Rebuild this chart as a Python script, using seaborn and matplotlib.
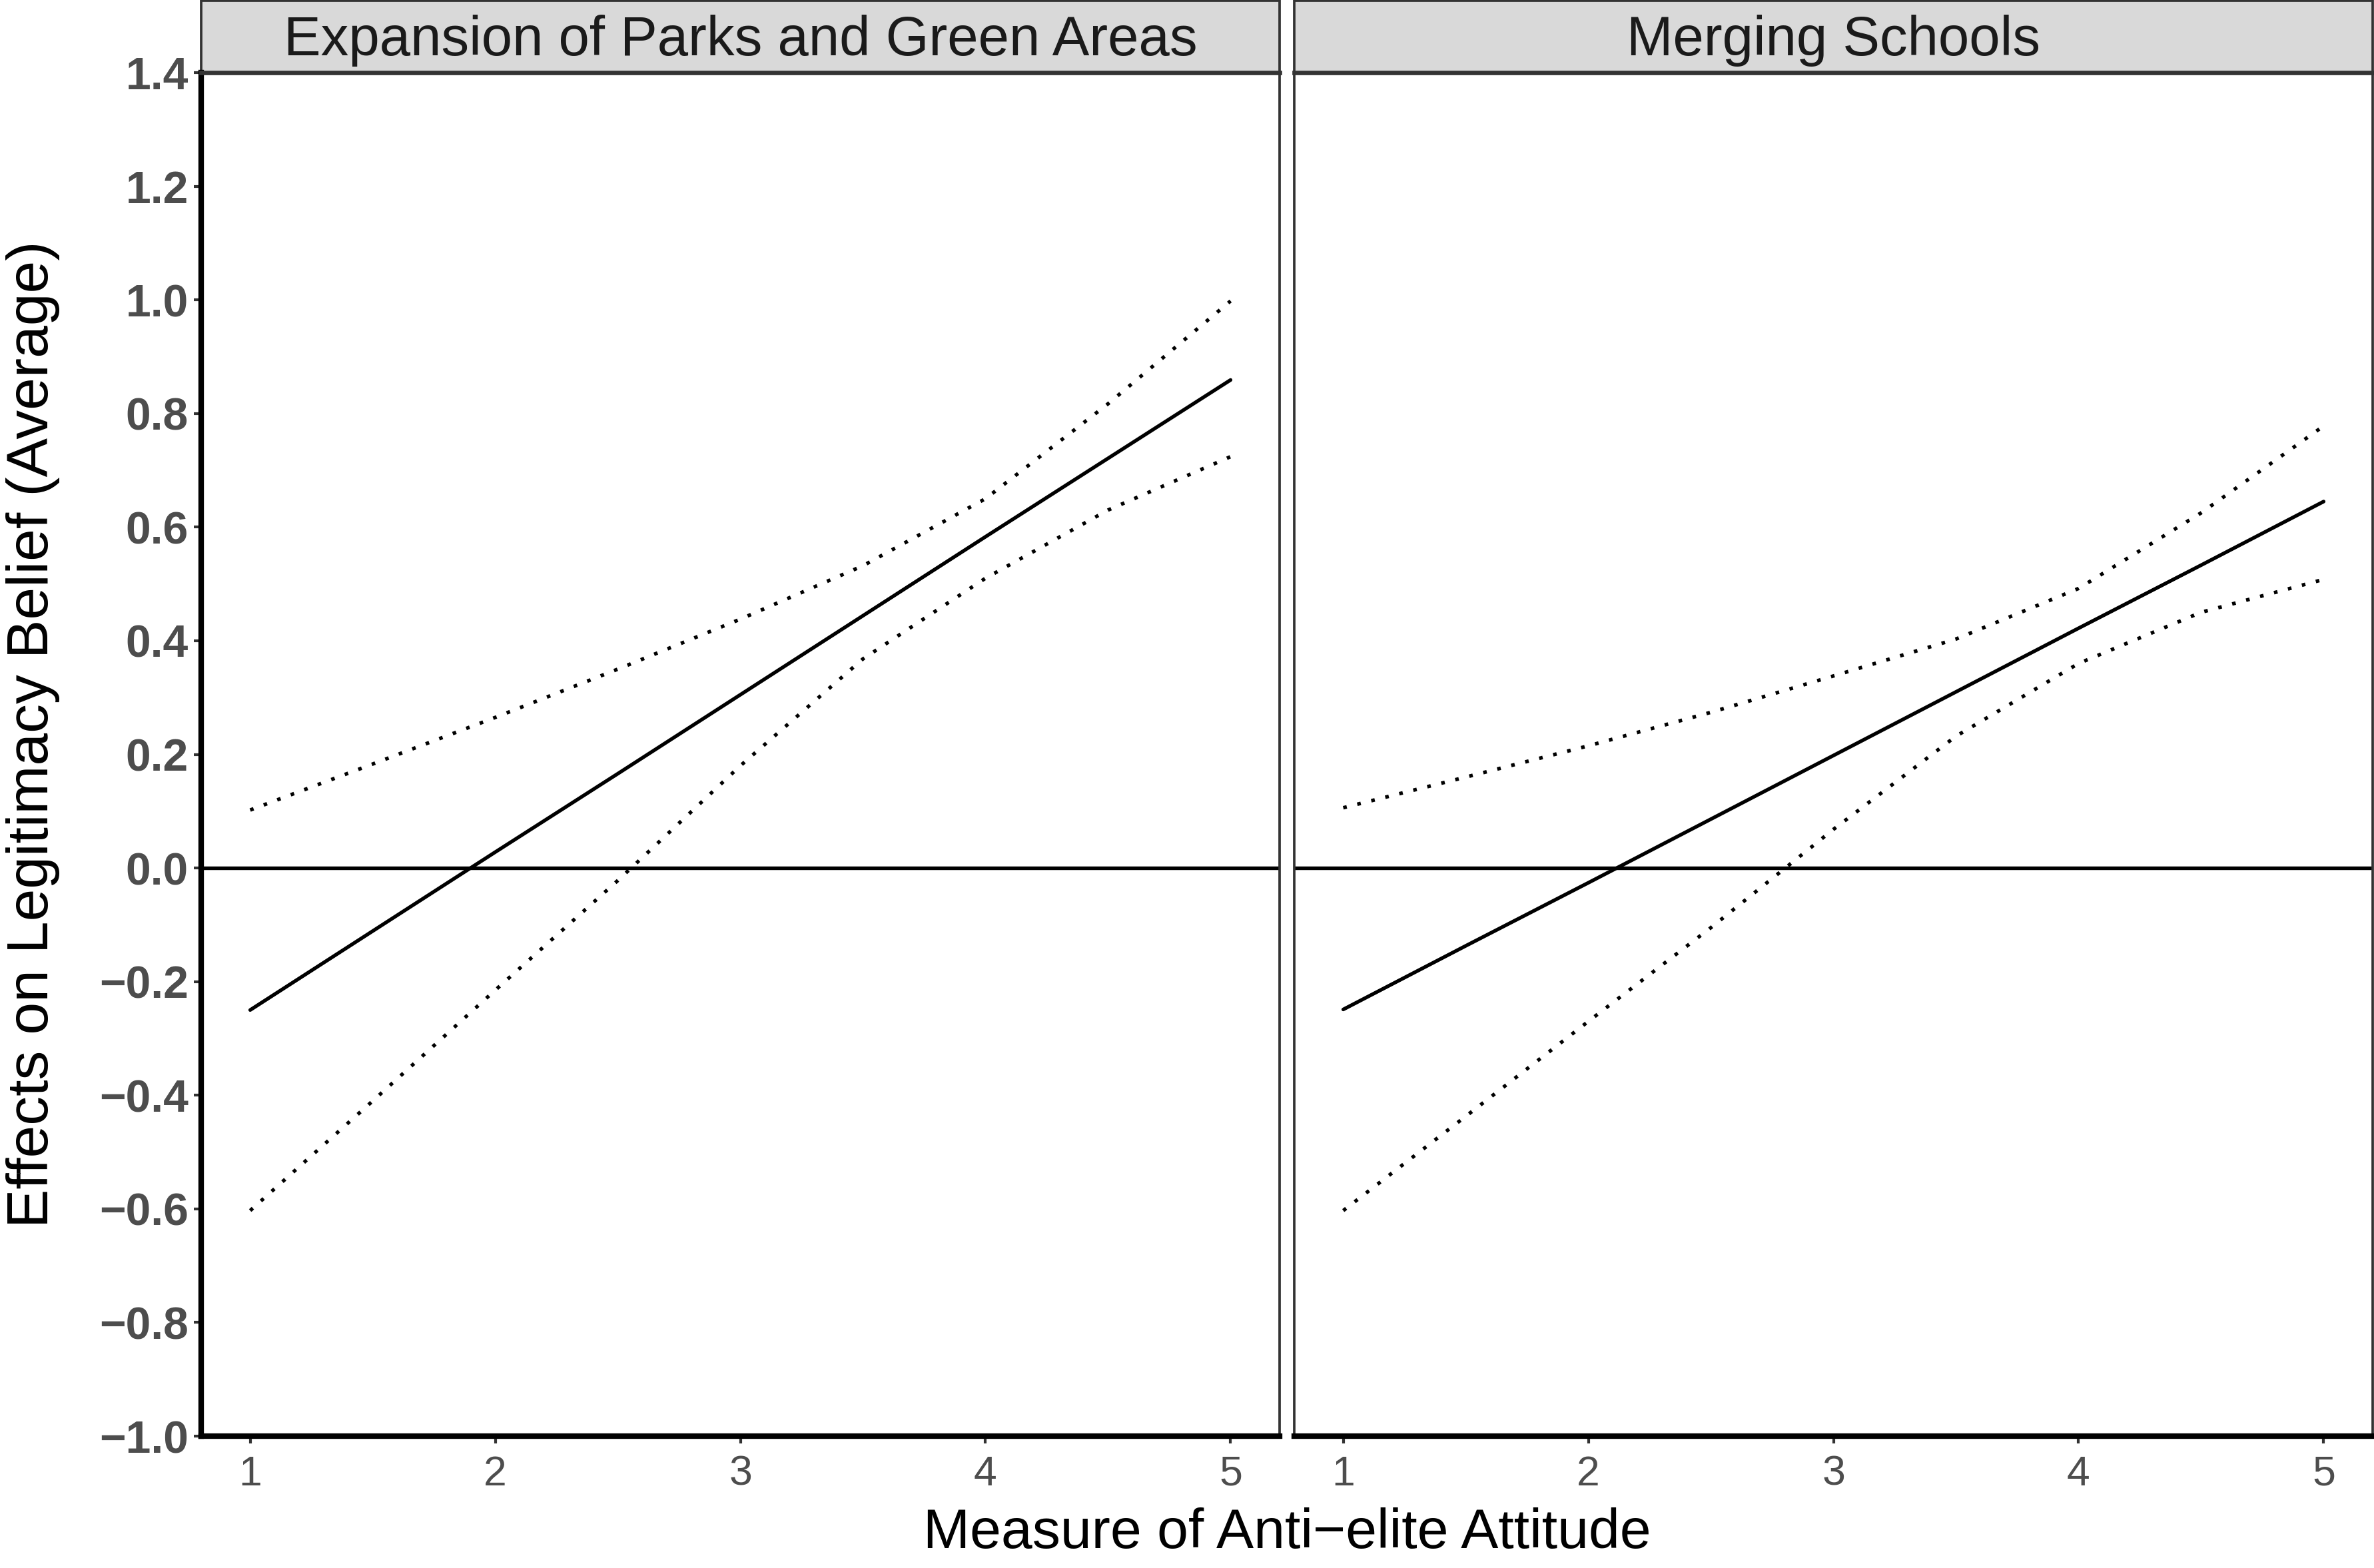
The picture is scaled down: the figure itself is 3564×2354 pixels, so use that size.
import matplotlib
matplotlib.use("Agg")
import matplotlib.pyplot as plt
from matplotlib.patches import Rectangle
import seaborn as sns
import pandas as pd

# ---------------- data ----------------
panels = ["Expansion of Parks and Green Areas", "Merging Schools"]
x_vals = [1, 1.5, 2, 2.5, 3, 3.5, 4, 4.5, 5]

parks_est   = [-0.250, -0.111, 0.028, 0.166, 0.305, 0.444, 0.583, 0.721, 0.859]
parks_upper = [0.102, 0.183, 0.265, 0.350, 0.438, 0.532, 0.650, 0.817, 0.998]
parks_lower = [-0.603, -0.410, -0.215, -0.022, 0.180, 0.368, 0.510, 0.630, 0.724]

schools_est   = [-0.249, -0.137, -0.026, 0.086, 0.198, 0.310, 0.422, 0.533, 0.645]
schools_upper = [0.106, 0.160, 0.215, 0.274, 0.338, 0.403, 0.492, 0.625, 0.778]
schools_lower = [-0.603, -0.437, -0.270, -0.105, 0.068, 0.232, 0.360, 0.450, 0.508]

y_ticks = [-1.0, -0.8, -0.6, -0.4, -0.2, 0.0, 0.2, 0.4, 0.6, 0.8, 1.0, 1.2, 1.4]
y_ticklabels = ["\u22121.0", "\u22120.8", "\u22120.6", "\u22120.4", "\u22120.2", "0.0",
                "0.2", "0.4", "0.6", "0.8", "1.0", "1.2", "1.4"]
x_ticks = [1, 2, 3, 4, 5]
x_ticklabels = ["1", "2", "3", "4", "5"]

x_title = "Measure of Anti\u2212elite Attitude"
y_title = "Effects on Legitimacy Belief (Average)"

series = {
    panels[0]: {"est": parks_est, "upper": parks_upper, "lower": parks_lower},
    panels[1]: {"est": schools_est, "upper": schools_upper, "lower": schools_lower},
}
rows = []
for p, d in series.items():
    for s, vals in d.items():
        for xv, yv in zip(x_vals, vals):
            rows.append({"panel": p, "series": s, "x": xv, "y": yv})
df = pd.DataFrame(rows)

# ---------------- style ----------------
sns.set_theme(style="white")
plt.rcParams["font.family"] = ["Liberation Sans", "DejaVu Sans"]

W, H = 3564, 2354
dpi = 300
fig = plt.figure(figsize=(W / dpi, H / dpi), dpi=dpi)
fig.patch.set_facecolor("white")

bottom = 1 - 2156 / H
height = (2156 - 109) / H
lefts = [302 / W, 1943 / W]
width = (1921 - 302) / W
strip_h_axes = 108 / (2156 - 109)

tick_gray = "#4D4D4D"
border = "#333333"

for i, p in enumerate(panels):
    ax = fig.add_axes([lefts[i], bottom, width, height])
    sub = df[df["panel"] == p]
    sns.lineplot(data=sub, x="x", y="y", style="series",
                 dashes={"est": "", "upper": (1, 3), "lower": (1, 3)},
                 color="black", linewidth=1.3, legend=False, ax=ax,
                 estimator=None, sort=True)
    ax.axhline(0, color="black", linewidth=1.3)
    ax.set_xlim(0.8, 5.2)
    ax.set_ylim(-1.0, 1.4)
    ax.set_xlabel("")
    ax.set_ylabel("")
    ax.set_xticks(x_ticks)
    ax.set_xticklabels(x_ticklabels, fontsize=15, color=tick_gray)
    ax.set_yticks(y_ticks)
    if i == 0:
        ax.set_yticklabels(y_ticklabels, fontsize=16.3, fontweight="bold", color=tick_gray)
        ax.tick_params(axis="y", length=2.6, width=1.0, color=border, pad=2, left=True)
    else:
        ax.set_yticklabels([])
        ax.tick_params(axis="y", left=False, length=0)
    ax.tick_params(axis="x", length=2.6, width=1.0, color=border, pad=4, bottom=True)
    for side in ["top", "right", "left"]:
        ax.spines[side].set_visible(True)
        ax.spines[side].set_color(border)
        ax.spines[side].set_linewidth(0.9)
    ax.spines["top"].set_linewidth(1.6)
    ax.spines["bottom"].set_color("black")
    ax.spines["bottom"].set_linewidth(2.0)
    if i == 0:
        ax.spines["left"].set_color("black")
        ax.spines["left"].set_linewidth(2.0)
    ax.grid(False)
    # strip
    rect = Rectangle((0, 1), 1, strip_h_axes, transform=ax.transAxes,
                     facecolor="#D9D9D9", edgecolor=border, linewidth=0.9,
                     clip_on=False)
    ax.add_patch(rect)
    ax.text(0.5, 1 + strip_h_axes / 2 - 0.003, p, transform=ax.transAxes,
            ha="center", va="center", fontsize=20, color="#1A1A1A")

fig.text(1932 / W, 1 - 2302 / H, x_title, ha="center", va="center",
         fontsize=20.2, color="black")
fig.text(50 / W, 1 - 1102 / H, y_title, ha="center", va="center",
         rotation=90, fontsize=21, color="black")

fig.savefig("out.png", dpi=dpi, facecolor="white")
